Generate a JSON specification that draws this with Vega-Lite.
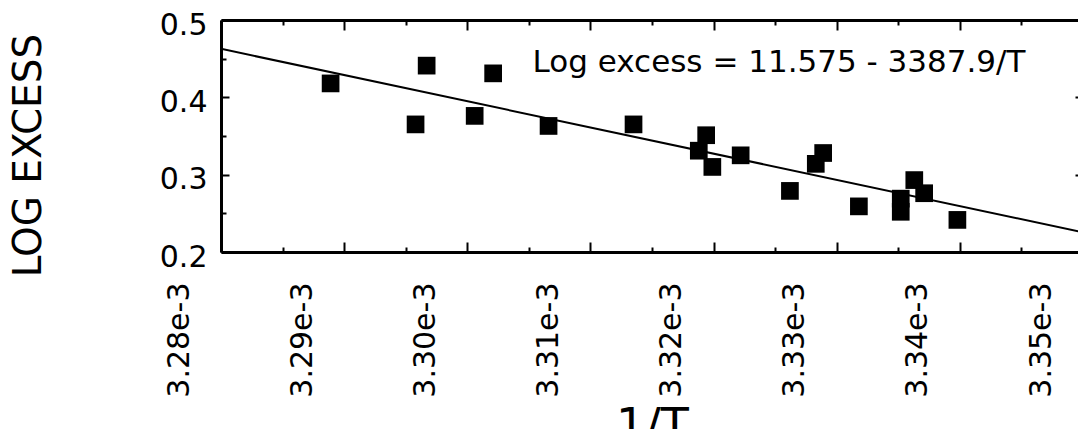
{
  "$schema": "https://vega.github.io/schema/vega-lite/v6.json",
  "width": 862,
  "height": 232,
  "autosize": "none",
  "padding": {"left": 221, "top": 20, "right": -5, "bottom": 177},
  "background": "white",
  "config": {"view": {"stroke": null}, "font": "DejaVu Sans"},
  "datasets": {
    "points": [
      {"inv_T": 0.0032889, "log_excess": 0.418},
      {"inv_T": 0.0032967, "log_excess": 0.441},
      {"inv_T": 0.0032958, "log_excess": 0.365},
      {"inv_T": 0.0033006, "log_excess": 0.376},
      {"inv_T": 0.0033021, "log_excess": 0.431},
      {"inv_T": 0.0033066, "log_excess": 0.363},
      {"inv_T": 0.0033135, "log_excess": 0.365},
      {"inv_T": 0.0033194, "log_excess": 0.351},
      {"inv_T": 0.0033188, "log_excess": 0.331},
      {"inv_T": 0.0033199, "log_excess": 0.310},
      {"inv_T": 0.0033222, "log_excess": 0.325},
      {"inv_T": 0.0033262, "log_excess": 0.279},
      {"inv_T": 0.0033283, "log_excess": 0.314},
      {"inv_T": 0.0033289, "log_excess": 0.328},
      {"inv_T": 0.0033318, "log_excess": 0.259},
      {"inv_T": 0.0033352, "log_excess": 0.269},
      {"inv_T": 0.0033352, "log_excess": 0.252},
      {"inv_T": 0.0033363, "log_excess": 0.293},
      {"inv_T": 0.0033371, "log_excess": 0.276},
      {"inv_T": 0.0033398, "log_excess": 0.2415}
    ],
    "fit": [
      {"inv_T": 0.00328, "log_excess": 0.4627},
      {"inv_T": 0.00335, "log_excess": 0.2255}
    ],
    "note": [
      {"inv_T": 0.0033053, "log_excess": 0.4325, "label": "Log excess = 11.575 - 3387.9/T"}
    ]
  },
  "layer": [
    {
      "data": {"name": "points"},
      "mark": {"type": "point", "shape": "square", "filled": true, "size": 313, "color": "black", "opacity": 1},
      "encoding": {
        "x": {
          "field": "inv_T", "type": "quantitative",
          "scale": {"domain": [0.00328, 0.00335], "nice": false, "zero": false},
          "axis": {
            "orient": "bottom",
            "values": [0.00328, 0.003285, 0.00329, 0.003295, 0.0033, 0.003305, 0.00331, 0.003315, 0.00332, 0.003325, 0.00333, 0.003335, 0.00334, 0.003345, 0.00335],
            "labelExpr": "abs(datum.value*1e5 - round(datum.value*1e5)) < 0.01 ? format(datum.value*1000, '.2f') + 'e-3' : ''",
            "labelAngle": -90,
            "labelOffset": -42,
            "labelFont": "DejaVu Sans",
            "labelFontSize": 30,
            "labelColor": "black",
            "labelPadding": 40,
            "labelFlush": false,
            "labelOverlap": false,
            "labelBound": false,
            "tickSize": {"condition": {"test": "abs(datum.value*1e5 - round(datum.value*1e5)) < 0.01", "value": -10}, "value": -5},
            "tickWidth": 2,
            "tickColor": "black",
            "domainColor": "black",
            "domainWidth": 3,
            "grid": false,
            "title": "1/T",
            "titleFont": "DejaVu Sans",
            "titleFontSize": 46,
            "titleFontWeight": "normal",
            "titleColor": "black",
            "titleBaseline": "alphabetic",
            "titleAlign": "center",
            "titleX": 431,
            "titleY": 188
          }
        },
        "y": {
          "field": "log_excess", "type": "quantitative",
          "scale": {"domain": [0.2, 0.5], "nice": false, "zero": false},
          "axis": {
            "orient": "left",
            "values": [0.2, 0.25, 0.3, 0.35, 0.4, 0.45, 0.5],
            "labelExpr": "abs(datum.value*10 - round(datum.value*10)) < 0.01 ? format(datum.value, '.1f') : ''",
            "labelFont": "DejaVu Sans",
            "labelFontSize": 30,
            "labelColor": "black",
            "labelPadding": 22,
            "labelOffset": 5,
            "labelFlush": false,
            "labelOverlap": false,
            "labelBound": false,
            "tickSize": {"condition": {"test": "abs(datum.value*10 - round(datum.value*10)) < 0.01", "value": -8}, "value": -5},
            "tickWidth": 2,
            "tickColor": "black",
            "domainColor": "black",
            "domainWidth": 3,
            "grid": false,
            "title": "LOG EXCESS",
            "titleFont": "DejaVu Sans",
            "titleFontSize": 39,
            "titleFontWeight": "normal",
            "titleColor": "black",
            "titleAngle": -90,
            "titleBaseline": "middle",
            "titleAlign": "center",
            "titleX": -193,
            "titleY": 135
          }
        }
      }
    },
    {
      "data": {"name": "fit"},
      "mark": {"type": "line", "color": "black", "strokeWidth": 2, "clip": true},
      "encoding": {
        "x": {
          "field": "inv_T", "type": "quantitative",
          "axis": {
            "orient": "top",
            "values": [0.00328, 0.003285, 0.00329, 0.003295, 0.0033, 0.003305, 0.00331, 0.003315, 0.00332, 0.003325, 0.00333, 0.003335, 0.00334, 0.003345, 0.00335],
            "labels": false,
            "tickSize": {"condition": {"test": "abs(datum.value*1e5 - round(datum.value*1e5)) < 0.01", "value": -10}, "value": -5},
            "tickWidth": 2,
            "tickColor": "black",
            "domainColor": "black",
            "domainWidth": 3,
            "grid": false,
            "title": null
          }
        },
        "y": {
          "field": "log_excess", "type": "quantitative",
          "axis": {
            "orient": "right",
            "values": [0.2, 0.25, 0.3, 0.35, 0.4, 0.45, 0.5],
            "labels": false,
            "tickSize": {"condition": {"test": "abs(datum.value*10 - round(datum.value*10)) < 0.01", "value": -8}, "value": -5},
            "tickWidth": 2,
            "tickColor": "black",
            "domainColor": "black",
            "domainWidth": 3,
            "grid": false,
            "title": null
          }
        }
      }
    },
    {
      "data": {"name": "note"},
      "mark": {"type": "text", "align": "left", "baseline": "alphabetic", "font": "DejaVu Sans", "fontSize": 31, "color": "black"},
      "encoding": {
        "x": {"field": "inv_T", "type": "quantitative", "axis": null},
        "y": {"field": "log_excess", "type": "quantitative", "axis": null},
        "text": {"field": "label"}
      }
    }
  ],
  "resolve": {"axis": {"x": "independent", "y": "independent"}}
}
